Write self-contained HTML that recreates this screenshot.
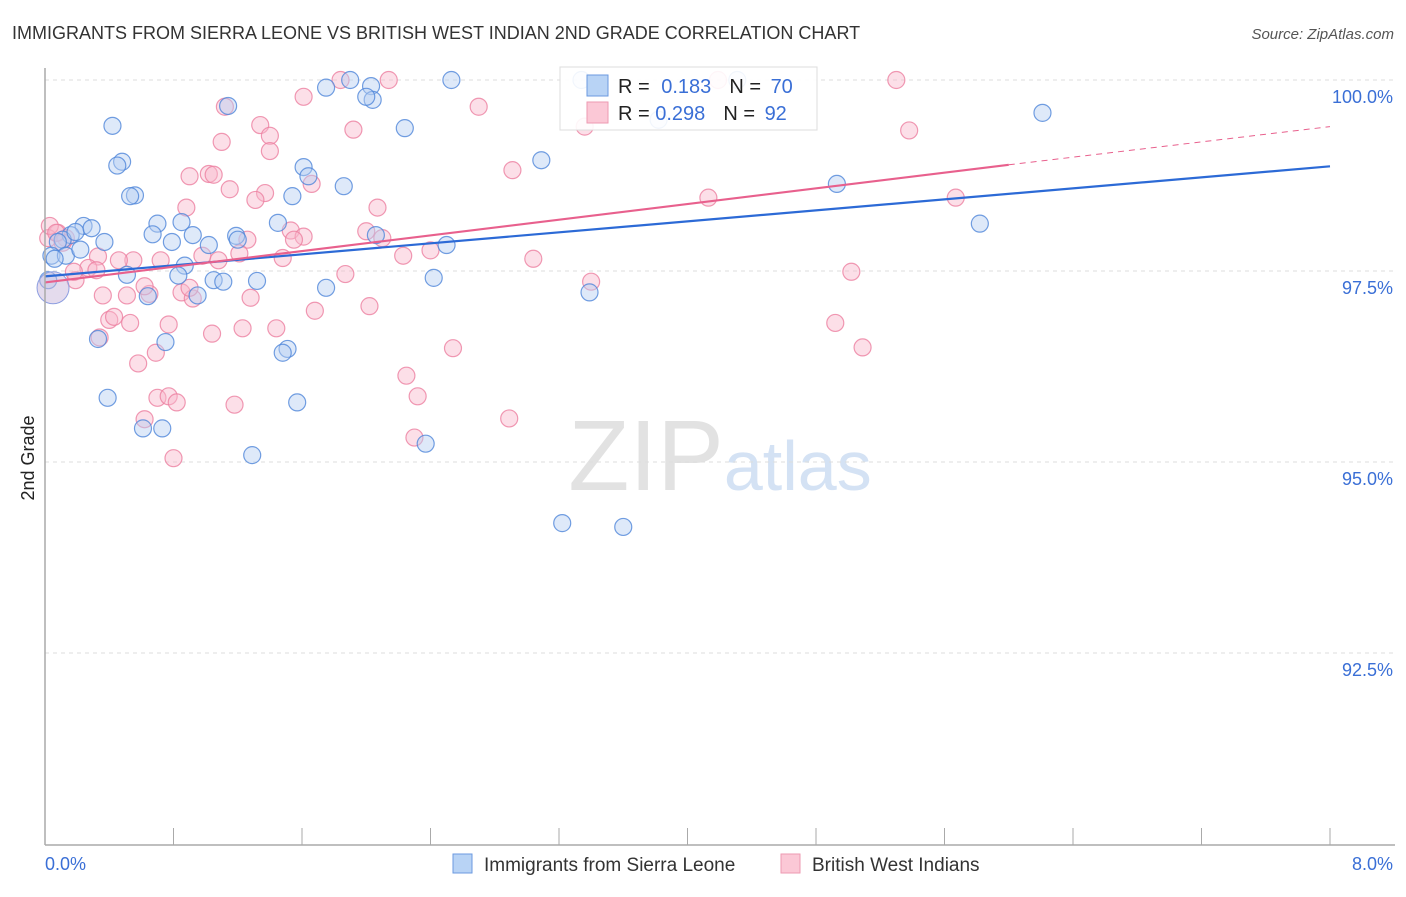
<!DOCTYPE html>
<html><head><meta charset="utf-8"><style>
body{margin:0;background:#fff;font-family:"Liberation Sans",sans-serif;}
svg text{font-family:"Liberation Sans",sans-serif;}
</style></head><body>
<svg id="chart" width="1406" height="892">
<text x="12" y="39" font-size="18" fill="#333">IMMIGRANTS FROM SIERRA LEONE VS BRITISH WEST INDIAN 2ND GRADE CORRELATION CHART</text>
<text x="1394" y="39" font-size="15" fill="#555" text-anchor="end" font-style="italic">Source: ZipAtlas.com</text>
<text x="34" y="458" font-size="18" fill="#222" text-anchor="middle" transform="rotate(-90 34 458)">2nd Grade</text>
<text x="720" y="490" font-size="100" fill="#e2e2e2" text-anchor="middle" font-family="Liberation Serif">ZIP<tspan fill="#d4e2f4" font-family="Liberation Sans" font-size="70">atlas</tspan></text>
<g id="grid"></g><g id="pts"></g><g id="lines"></g>
<line x1="45" y1="845" x2="1395" y2="845" stroke="#aaa" stroke-width="1.5"/>
<line x1="45" y1="68" x2="45" y2="845" stroke="#aaa" stroke-width="1.5"/>
<g id="xt"></g>
<text x="45" y="870" font-size="18" fill="#3a6fd6">0.0%</text>
<text x="1393" y="870" font-size="18" fill="#3a6fd6" text-anchor="end">8.0%</text>
<g>
<rect x="453" y="854" width="19" height="19" fill="#b8d3f5" stroke="#6b9ae0"/>
<text x="484" y="871" font-size="19" fill="#333">Immigrants from Sierra Leone</text>
<rect x="781" y="854" width="19" height="19" fill="#fbc8d6" stroke="#ee9ab2"/>
<text x="812" y="871" font-size="19" fill="#333">British West Indians</text>
</g>
<g>
<rect x="560" y="67" width="257" height="63" fill="#fff" fill-opacity="0.9" stroke="#ddd"/>
<rect x="587" y="75" width="21" height="21" fill="#b8d3f5" stroke="#6b9ae0"/>
<text x="618" y="93" font-size="20" fill="#222">R = <tspan fill="#3a6fd6" dx="6">0.183</tspan><tspan dx="18">N = </tspan><tspan fill="#3a6fd6" dx="4">70</tspan></text>
<rect x="587" y="102" width="21" height="21" fill="#fbc8d6" stroke="#ee9ab2"/>
<text x="618" y="120" font-size="20" fill="#222">R = <tspan fill="#3a6fd6">0.298</tspan><tspan dx="18">N = </tspan><tspan fill="#3a6fd6" dx="4">92</tspan></text>
</g>
</svg>
<script>
const yTicks=[100,97.5,95,92.5];
const yTickLabels=["100.0%","97.5%","95.0%","92.5%"];
const blueX=[2.03,1.75,1.90,2.53,3.34,4.31,6.21,3.82,2.04,2.00,1.14,0.42,2.24,0.48,0.45,3.09,1.61,1.64,1.86,4.93,0.56,0.53,1.54,1.45,0.70,0.85,0.24,0.67,5.82,2.06,1.19,1.20,0.92,0.79,0.37,0.16,0.11,0.19,0.08,2.50,1.02,0.02,0.04,0.87,0.51,0.83,2.42,1.05,1.11,1.32,1.75,0.64,0.95,3.39,0.33,0.75,1.51,1.48,0.39,1.57,0.61,0.73,2.37,1.29,3.22,3.60,0.29,0.13,0.06,0.22];
const blueY=[99.92,99.90,100,100,100,100,99.57,99.48,99.74,99.78,99.66,99.40,99.37,98.93,98.88,98.95,98.86,98.74,98.61,98.64,98.49,98.48,98.48,98.13,98.12,98.14,98.09,97.98,98.12,97.97,97.96,97.91,97.97,97.88,97.88,97.97,97.91,98.01,97.88,97.84,97.84,97.38,97.70,97.57,97.45,97.44,97.41,97.38,97.36,97.37,97.28,97.17,97.18,97.22,96.61,96.57,96.48,96.43,95.84,95.78,95.44,95.44,95.24,95.09,94.20,94.15,98.06,97.70,97.66,97.78];
const pinkX=[1.84,2.14,5.30,4.19,1.61,2.70,1.12,1.34,1.92,5.38,1.40,1.10,1.40,2.91,0.90,1.02,1.05,1.66,1.15,1.37,1.31,4.13,5.67,0.88,2.07,2.00,1.53,1.61,2.10,1.55,1.26,0.08,0.02,0.13,0.11,0.98,1.08,1.21,1.48,2.23,2.40,3.04,0.72,0.55,0.46,0.33,0.27,0.19,1.87,5.02,3.40,0.51,0.65,0.36,0.62,0.85,0.92,1.28,0.18,0.32,0.40,0.43,0.53,0.77,1.23,1.44,1.68,2.02,1.04,0.34,4.92,5.09,2.54,0.69,0.58,2.25,2.32,0.70,0.77,0.82,1.18,0.62,2.89,2.30,0.80,3.36,0.03,0.07,0.90];
const pinkY=[100,100,100,100,99.78,99.65,99.65,99.41,99.35,99.34,99.27,99.19,99.07,98.82,98.74,98.77,98.76,98.64,98.57,98.52,98.43,98.46,98.46,98.33,98.33,98.02,98.03,97.95,97.93,97.91,97.91,98.00,97.93,97.93,97.87,97.70,97.64,97.73,97.67,97.70,97.77,97.66,97.64,97.64,97.64,97.69,97.54,97.38,97.46,97.49,97.36,97.18,97.20,97.18,97.30,97.22,97.14,97.15,97.49,97.51,96.86,96.90,96.82,96.80,96.75,96.75,96.98,97.04,96.68,96.63,96.82,96.50,96.49,96.43,96.29,96.13,95.86,95.84,95.86,95.78,95.75,95.56,95.57,95.32,95.05,99.39,98.09,98.00,97.28];
const trendBlue=[97.43,98.87];
const trendPink=[97.35,98.89,99.39];
const X=v=>45+v/8*1285, Y=v=>80+(100-v)*76.4;
const NS="http://www.w3.org/2000/svg";
function mk(t,a,p){const e=document.createElementNS(NS,t);for(const k in a)e.setAttribute(k,a[k]);p.appendChild(e);return e;}
const g=document.getElementById('grid');
yTicks.forEach((v,i)=>{
 const l=mk('line',{x1:45,x2:1395,y1:Y(v),y2:Y(v),stroke:'#ddd','stroke-dasharray':'4 4'},g);
 
 
 const t=mk('text',{x:1393,y:Y(v)+23,'font-size':18,fill:'#3a6fd6','text-anchor':'end'},g);
 t.textContent=yTickLabels[i];
 
 
});
const xt=document.getElementById('xt');
for(let i=0;i<=10;i++){const xv=45+128.5*i;
 const l=mk('line',{x1:xv,x2:xv,y1:828,y2:845,stroke:'#aaa'},xt);
 
 
}
const pts=document.getElementById('pts');
function dots(xs,ys,fill,stroke,name){xs.forEach((x,i)=>{
 const c=mk('circle',{cx:X(x),cy:Y(ys[i]),r:8.5,fill:fill,'fill-opacity':0.45,stroke:stroke,'stroke-width':1.2,'stroke-opacity':0.8},pts);
 
 
});}
dots(pinkX,pinkY,'#f9b8cb','#ec7fa0','pink-point');
dots(blueX,blueY,'#b5cff2','#4f86d9','blue-point');
const big1=mk('circle',{cx:X(0.05),cy:Y(97.28),r:16,fill:'#c9b7dc','fill-opacity':0.5,stroke:'#8d9ee0'},pts);


const L=document.getElementById('lines');
const lb=mk('line',{x1:X(0),y1:Y(trendBlue[0]),x2:X(8),y2:Y(trendBlue[1]),stroke:'#2c6ad6','stroke-width':2.2},L);


const lp=mk('line',{x1:X(0),y1:Y(trendPink[0]),x2:X(6),y2:Y(trendPink[1]),stroke:'#e8608d','stroke-width':2.2},L);


const lpd=mk('line',{x1:X(6),y1:Y(trendPink[1]),x2:X(8),y2:Y(trendPink[2]),stroke:'#e8608d','stroke-width':1,'stroke-dasharray':'6 5'},L);


</script>
</body></html>
